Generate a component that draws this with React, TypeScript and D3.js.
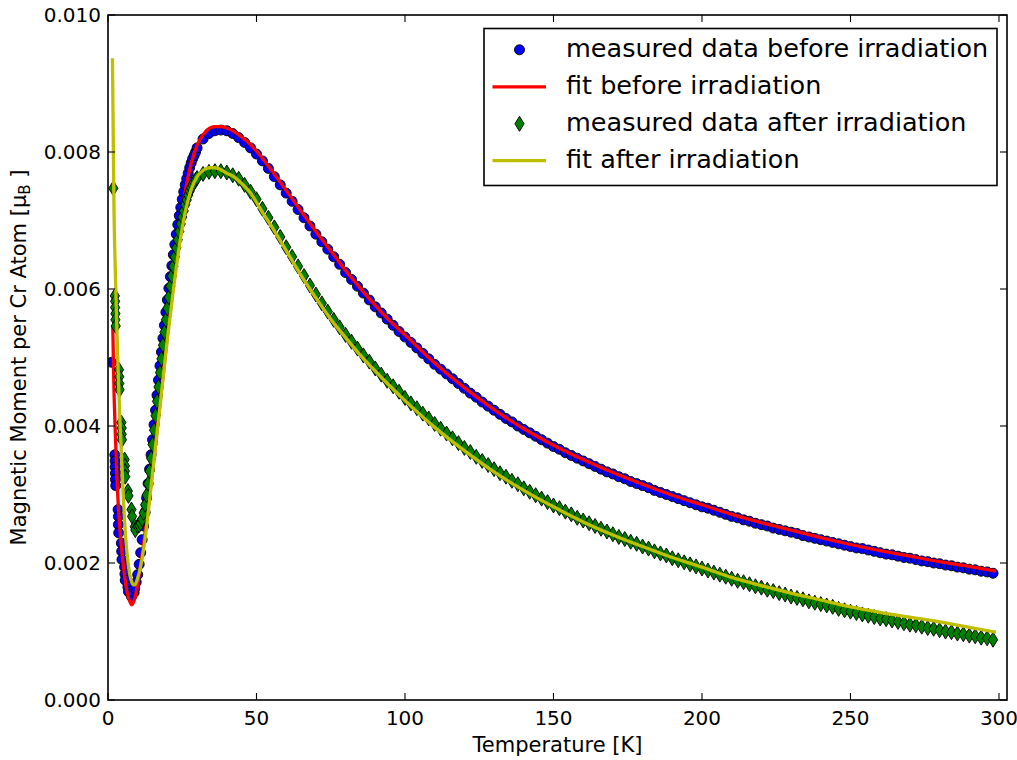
import React from "react";
import * as d3 from "d3";

// ---- data ----
// rising side, sampled every 0.5 K
const risingT = [
  10, 10.5, 11, 11.5, 12, 12.5, 13, 13.5, 14, 14.5,
  15, 15.5, 16, 16.5, 17, 17.5, 18, 18.5, 19, 19.5,
  20, 20.5, 21, 21.5, 22, 22.5, 23, 23.5, 24, 24.5,
  25, 25.5, 26, 26.5, 27, 27.5, 28, 28.5, 29, 29.5,
];
const risingBeforeM = [
  0.00183, 0.00198, 0.00215, 0.00234, 0.00254, 0.00274, 0.00295, 0.00316, 0.00337, 0.00358,
  0.0038, 0.00402, 0.00423, 0.00445, 0.00467, 0.00488, 0.00508, 0.00528, 0.00547, 0.00566,
  0.00584, 0.00601, 0.00618, 0.00634, 0.0065, 0.00665, 0.0068, 0.00694, 0.00707, 0.00719,
  0.00731, 0.00742, 0.00752, 0.00761, 0.00769, 0.00777, 0.00784, 0.0079, 0.00795, 0.008,
];
const risingAfterM = [
  0.00254, 0.00255, 0.00258, 0.00264, 0.00273, 0.00285, 0.00299, 0.00316, 0.00334, 0.00353,
  0.00373, 0.00394, 0.00415, 0.00436, 0.00457, 0.00478, 0.00498, 0.00518, 0.00537, 0.00555,
  0.00572, 0.00588, 0.00604, 0.00619, 0.00633, 0.00647, 0.0066, 0.00672, 0.00684, 0.00695,
  0.00705, 0.00714, 0.00723, 0.0073, 0.00737, 0.00743, 0.00748, 0.00752, 0.00756, 0.00759,
];

// peak and tail, sampled every 2 K
const tailT = [
  30, 32, 34, 36, 38, 40, 42, 44, 46, 48,
  50, 52, 54, 56, 58, 60, 62, 64, 66, 68,
  70, 72, 74, 76, 78, 80, 82, 84, 86, 88,
  90, 92, 94, 96, 98, 100, 102, 104, 106, 108,
  110, 112, 114, 116, 118, 120, 122, 124, 126, 128,
  130, 132, 134, 136, 138, 140, 142, 144, 146, 148,
  150, 152, 154, 156, 158, 160, 162, 164, 166, 168,
  170, 172, 174, 176, 178, 180, 182, 184, 186, 188,
  190, 192, 194, 196, 198, 200, 202, 204, 206, 208,
  210, 212, 214, 216, 218, 220, 222, 224, 226, 228,
  230, 232, 234, 236, 238, 240, 242, 244, 246, 248,
  250, 252, 254, 256, 258, 260, 262, 264, 266, 268,
  270, 272, 274, 276, 278, 280, 282, 284, 286, 288,
  290, 292, 294, 296, 298,
];
const tailBeforeM = [
  0.00806, 0.00819, 0.00827, 0.00831, 0.00832, 0.00831, 0.00827, 0.00821, 0.00814, 0.00806,
  0.00797, 0.00787, 0.00776, 0.00764, 0.00752, 0.0074, 0.00728, 0.00716, 0.00704, 0.00692,
  0.0068, 0.00669, 0.00658, 0.00647, 0.00636, 0.00624, 0.00614, 0.00604, 0.00594, 0.00584,
  0.00574, 0.00565, 0.00556, 0.00547, 0.00538, 0.0053, 0.00522, 0.00514, 0.00506, 0.00498,
  0.0049, 0.00483, 0.00476, 0.00469, 0.00462, 0.00455, 0.00448, 0.00442, 0.00435, 0.00429,
  0.00423, 0.00417, 0.00411, 0.00406, 0.004, 0.00395, 0.0039, 0.00385, 0.0038, 0.00375,
  0.0037, 0.00366, 0.00361, 0.00357, 0.00353, 0.00349, 0.00345, 0.00341, 0.00337, 0.00333,
  0.0033, 0.00326, 0.00323, 0.00319, 0.00316, 0.00313, 0.0031, 0.00306, 0.00303, 0.003,
  0.00297, 0.00294, 0.00291, 0.00288, 0.00285, 0.00282, 0.0028, 0.00277, 0.00274, 0.00271,
  0.00268, 0.00266, 0.00263, 0.00261, 0.00258, 0.00256, 0.00254, 0.00251, 0.00249, 0.00247,
  0.00245, 0.00243, 0.0024, 0.00238, 0.00236, 0.00234, 0.00232, 0.0023, 0.00228, 0.00226,
  0.00224, 0.00222, 0.00221, 0.00219, 0.00217, 0.00215, 0.00213, 0.00212, 0.0021, 0.00208,
  0.00207, 0.00205, 0.00203, 0.00202, 0.002, 0.00199, 0.00197, 0.00196, 0.00194, 0.00193,
  0.00191, 0.0019, 0.00188, 0.00187, 0.00185,
];
const tailAfterM = [
  0.00762, 0.00768, 0.00771, 0.00772, 0.00772, 0.0077, 0.00766, 0.00761, 0.00752, 0.00742,
  0.00731, 0.00717, 0.00704, 0.0069, 0.00676, 0.00661, 0.00647, 0.00633, 0.00619, 0.00605,
  0.00592, 0.00579, 0.00567, 0.00555, 0.00544, 0.00533, 0.00523, 0.00513, 0.00503, 0.00494,
  0.00484, 0.00475, 0.00466, 0.00458, 0.0045, 0.00441, 0.00433, 0.00426, 0.00418, 0.00411,
  0.00403, 0.00396, 0.00389, 0.00382, 0.00375, 0.00368, 0.00362, 0.00355, 0.00349, 0.00343,
  0.00337, 0.00331, 0.00326, 0.0032, 0.00315, 0.00309, 0.00304, 0.00299, 0.00294, 0.00289,
  0.00284, 0.0028, 0.00275, 0.00271, 0.00266, 0.00262, 0.00258, 0.00254, 0.0025, 0.00246,
  0.00242, 0.00238, 0.00235, 0.00231, 0.00228, 0.00224, 0.00221, 0.00217, 0.00214, 0.00211,
  0.00207, 0.00204, 0.00201, 0.00198, 0.00195, 0.00192, 0.00189, 0.00186, 0.00183, 0.0018,
  0.00177, 0.00174, 0.00172, 0.00169, 0.00166, 0.00164, 0.00161, 0.00159, 0.00156, 0.00154,
  0.00151, 0.00149, 0.00147, 0.00144, 0.00142, 0.0014, 0.00138, 0.00136, 0.00133, 0.00131,
  0.00129, 0.00127, 0.00125, 0.00123, 0.00121, 0.00119, 0.00118, 0.00116, 0.00114, 0.00112,
  0.0011, 0.00109, 0.00107, 0.00105, 0.00104, 0.00102, 0.001, 0.00099, 0.00097, 0.00096,
  0.00094, 0.00093, 0.00091, 0.0009, 0.00088,
];

// lowest temperatures (repeated readings)
const lowBeforeT = [1.2, 2.3, 2.4, 2.4, 2.5, 2.5, 2.6, 3.4, 3.5, 3.5, 3.6, 4.5, 4.6, 4.7, 5.6, 5.7, 5.8, 6.7, 6.9, 7.8, 7.9, 8.8, 9.0, 9.5];
const lowBeforeM = [0.00493, 0.00358, 0.00349, 0.0034, 0.00331, 0.00322, 0.00313, 0.00278, 0.00268, 0.00256, 0.00244, 0.00229, 0.00217, 0.00205, 0.00194, 0.00184, 0.00175, 0.00165, 0.00158, 0.00155, 0.00151, 0.00157, 0.00163, 0.00172];

const lowAfterT = [1.8, 2.3, 2.4, 2.4, 2.5, 2.5, 2.6, 3.7, 3.8, 3.8, 3.9, 4.5, 4.6, 4.6, 4.7, 5.6, 5.7, 5.7, 5.8, 6.7, 6.9, 7.9, 8.1, 9.0, 9.2];
const lowAfterM = [0.00747, 0.0059, 0.00582, 0.00573, 0.00564, 0.00555, 0.00546, 0.00482, 0.00472, 0.00462, 0.00453, 0.00405, 0.00397, 0.00388, 0.0038, 0.00351, 0.00342, 0.00334, 0.00326, 0.00305, 0.00298, 0.00278, 0.00268, 0.00253, 0.00248];

const fitBeforeT = [1.6, 2, 2.5, 3, 3.5, 4, 5, 6, 7, 8, 9, 10, 11, 12, 13, 14, 15, 16, 17, 18, 19, 20, 22, 24, 26, 28, 30, 32, 34, 36, 38, 40, 42, 45, 48, 52, 56, 60, 65, 70, 75, 80, 85, 90, 95, 100, 110, 120, 130, 140, 150, 160, 170, 180, 190, 200, 210, 220, 230, 240, 250, 260, 270, 280, 290, 299];
const fitBeforeM = [0.00546, 0.00455, 0.00385, 0.00325, 0.00282, 0.0025, 0.00203, 0.00168, 0.00148, 0.00139, 0.00148, 0.0017, 0.00198, 0.00228, 0.00263, 0.00298, 0.00335, 0.00373, 0.00412, 0.00452, 0.00492, 0.00532, 0.00612, 0.00683, 0.00742, 0.00783, 0.0081, 0.00825, 0.00834, 0.00837, 0.00837, 0.00835, 0.00831, 0.00822, 0.00811, 0.00791, 0.00768, 0.00744, 0.00714, 0.00684, 0.00656, 0.00627, 0.00601, 0.00576, 0.00553, 0.00533, 0.00492, 0.00456, 0.00424, 0.00396, 0.00372, 0.00351, 0.00332, 0.00315, 0.00299, 0.00285, 0.00271, 0.00259, 0.00248, 0.00237, 0.00227, 0.00218, 0.0021, 0.00202, 0.00195, 0.00188];

const fitAfterT = [1.5, 2, 2.5, 3, 3.5, 4, 5, 6, 7, 8, 8.5, 9, 10, 11, 12, 13, 14, 15, 16, 17, 18, 19, 20, 22, 24, 26, 28, 30, 32, 34, 36, 38, 40, 42, 45, 48, 52, 56, 60, 65, 70, 75, 80, 85, 90, 95, 100, 110, 120, 130, 140, 150, 160, 170, 180, 190, 200, 210, 220, 230, 240, 250, 260, 270, 280, 290, 299];
const fitAfterM = [0.00937, 0.0072, 0.0062, 0.0054, 0.0047, 0.0041, 0.0031, 0.00235, 0.00192, 0.00172, 0.00168, 0.00168, 0.00178, 0.00195, 0.0022, 0.00253, 0.00292, 0.00331, 0.0037, 0.00409, 0.00448, 0.00488, 0.00527, 0.00598, 0.00662, 0.00712, 0.00745, 0.00764, 0.00773, 0.00777, 0.00777, 0.00774, 0.00769, 0.00765, 0.00754, 0.0074, 0.00712, 0.00685, 0.00656, 0.0062, 0.00587, 0.00556, 0.00529, 0.00503, 0.0048, 0.00458, 0.00437, 0.00398, 0.00364, 0.00333, 0.00306, 0.00282, 0.0026, 0.00241, 0.00224, 0.00208, 0.00194, 0.00179, 0.00167, 0.00156, 0.00146, 0.00136, 0.00128, 0.00121, 0.00114, 0.00106, 0.00099];

const xTicks = [0, 50, 100, 150, 200, 250, 300];
const yTicks = [0, 0.002, 0.004, 0.006, 0.008, 0.01];
const legendLabels = [
  "measured data before irradiation",
  "fit before irradiation",
  "measured data after irradiation",
  "fit after irradiation",
];

// ---- layout ----
const W = 1017;
const H = 760;
const L = 108, R = 1007, T = 15, B = 700;
const FONT = "'DejaVu Sans', sans-serif";

const BLUE = "#0000ff";
const RED = "#ff0000";
const GREEN = "#008000";
const YELLOW = "#bfbf00";

const diamondPath = "M0,-7.5L4.6,0L0,7.5L-4.6,0Z";

export default function App() {
  const x = d3.scaleLinear().domain([0, 302.7]).range([L, R]);
  const y = d3.scaleLinear().domain([0, 0.01]).range([B, T]);
  const fmt = d3.format(".3f");

  const before = [
    ...lowBeforeT.map((t, i) => [t, lowBeforeM[i]]),
    ...risingT.map((t, i) => [t, risingBeforeM[i]]),
    ...tailT.map((t, i) => [t, tailBeforeM[i]]),
  ];
  const after = [
    ...lowAfterT.map((t, i) => [t, lowAfterM[i]]),
    ...risingT.map((t, i) => [t, risingAfterM[i]]),
    ...tailT.map((t, i) => [t, tailAfterM[i]]),
  ];
  const fitB = fitBeforeT.map((t, i) => [t, fitBeforeM[i]]);
  const fitA = fitAfterT.map((t, i) => [t, fitAfterM[i]]);

  const line = d3
    .line<number[]>()
    .x((d) => x(d[0]))
    .y((d) => y(d[1]))
    .curve(d3.curveMonotoneX);

  const rows = [49.8, 86.8, 123.8, 160.7];

  return (
    <svg
      width={W}
      height={H}
      style={{ position: "absolute", left: 0, top: 0, background: "#fff" }}
      fontFamily={FONT}
    >
      <rect x={0} y={0} width={W} height={H} fill="#fff" />
      <defs>
        <clipPath id="plotclip">
          <rect x={L} y={T} width={R - L} height={B - T} />
        </clipPath>
      </defs>

      <g clipPath="url(#plotclip)">
        <g>
          {before.map((d, i) => (
            <circle
              key={"b" + i}
              cx={x(d[0])}
              cy={y(d[1])}
              r={5}
              fill={BLUE}
              stroke="#000"
              strokeWidth={0.9}
            />
          ))}
        </g>
        <path d={line(fitB) || ""} fill="none" stroke={RED} strokeWidth={3.3} />
        <g>
          {after.map((d, i) => (
            <path
              key={"a" + i}
              d={diamondPath}
              transform={`translate(${x(d[0])},${y(d[1])})`}
              fill={GREEN}
              stroke="#000"
              strokeWidth={0.9}
            />
          ))}
        </g>
        <path d={line(fitA) || ""} fill="none" stroke={YELLOW} strokeWidth={3.3} />
      </g>

      {/* ticks */}
      {xTicks.map((t) => (
        <g key={"xt" + t}>
          <line x1={x(t)} x2={x(t)} y1={B} y2={B - 7} stroke="#000" strokeWidth={1.1} />
          <line x1={x(t)} x2={x(t)} y1={T} y2={T + 7} stroke="#000" strokeWidth={1.1} />
          <text x={x(t)} y={725} textAnchor="middle" fontSize={20} fill="#000">
            {t}
          </text>
        </g>
      ))}
      {yTicks.map((t) => (
        <g key={"yt" + t}>
          <line x1={L} x2={L + 7} y1={y(t)} y2={y(t)} stroke="#000" strokeWidth={1.1} />
          <line x1={R} x2={R - 7} y1={y(t)} y2={y(t)} stroke="#000" strokeWidth={1.1} />
          <text x={101} y={y(t) + 7} textAnchor="end" fontSize={20} fill="#000">
            {fmt(t)}
          </text>
        </g>
      ))}

      {/* frame */}
      <rect x={L} y={T} width={R - L} height={B - T} fill="none" stroke="#000" strokeWidth={1.6} />

      {/* axis labels */}
      <text x={(L + R) / 2} y={752} textAnchor="middle" fontSize={21} fill="#000">
        Temperature [K]
      </text>
      <text
        transform={`translate(26,${(T + B) / 2}) rotate(-90)`}
        textAnchor="middle"
        fontSize={21}
        fill="#000"
      >
        Magnetic Moment per Cr Atom [μ
        <tspan dy={4} fontSize={15}>B</tspan>
        <tspan dy={-4}> ]</tspan>
      </text>

      {/* legend */}
      <rect x={484} y={28.5} width={513} height={157} fill="#fff" stroke="#000" strokeWidth={1.6} />
      <circle cx={519.5} cy={rows[0]} r={5} fill={BLUE} stroke="#000" strokeWidth={0.9} />
      <line x1={492.5} x2={546} y1={rows[1]} y2={rows[1]} stroke={RED} strokeWidth={3.3} />
      <path
        d={diamondPath}
        transform={`translate(519.5,${rows[2]})`}
        fill={GREEN}
        stroke="#000"
        strokeWidth={0.9}
      />
      <line x1={492.5} x2={546} y1={rows[3]} y2={rows[3]} stroke={YELLOW} strokeWidth={3.3} />
      {legendLabels.map((lab, i) => (
        <text key={lab} x={566} y={rows[i] + 7} fontSize={25.5} fill="#000">
          {lab}
        </text>
      ))}
    </svg>
  );
}
